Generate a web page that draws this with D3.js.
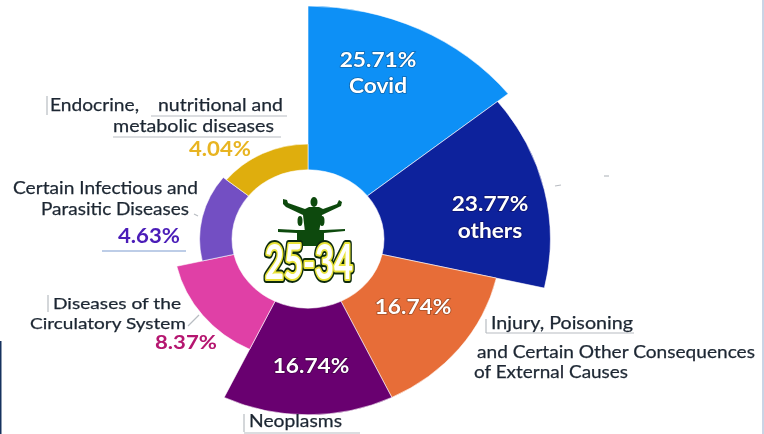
<!DOCTYPE html>
<html>
<head>
<meta charset="utf-8">
<script src="https://cdnjs.cloudflare.com/ajax/libs/d3/7.8.5/d3.min.js"></script>
<style>
    html, body { margin: 0; padding: 0; background: #fff; overflow: hidden; }
    svg { display: block; }
    text { font-family: Lato, "Open Sans", sans-serif; }
</style>
</head>
<body>
<svg id="chart" width="764" height="434"></svg>
<script>
// values, clockwise from 12 o'clock
const categories = ['Covid', 'others', 'Injury', 'Neoplasms', 'Circulatory', 'Infectious', 'Endocrine'];
const values = [25.71, 23.77, 16.74, 16.74, 8.37, 4.63, 4.04];
const colors = ['#0f90f6', '#10209c', '#e76d37', '#69006f', '#e041a6', '#7350c3', '#dfae0b'];

const innerLabels = [
    { cat: 'Covid', x: 378, y: 67, name: 'Covid', ny: 93 },
    { cat: 'others', x: 490, y: 211, name: 'others', ny: 238 },
    { cat: 'Injury', x: 413, y: 314 },
    { cat: 'Neoplasms', x: 311, y: 373 }
];
const outerLabels = [
    { cat: 'Endocrine', x: 220, y: 156, color: '#e8b420', size: 21 },
    { cat: 'Infectious', x: 149, y: 243, color: '#4b1fb8', size: 21 },
    { cat: 'Circulatory', x: 186, y: 349, color: '#b5156f', size: 19 }
];
// text, left edge, baseline, width on the picture, font size
const captions = [
    ['Endocrine,', 50, 111, 89, 18], ['nutritional and', 158, 111, 125, 18], ['metabolic diseases', 113, 132, 161, 18],
    ['Certain Infectious and', 13, 194, 185, 18], ['Parasitic Diseases', 41, 215, 148, 18],
    ['Diseases of the', 53, 309, 128, 16], ['Circulatory System', 30, 329, 156, 16],
    ['Neoplasms', 249, 427, 93, 18],
    ['Injury, Poisoning', 491, 329, 142, 18],
    ['and Certain Other Consequences', 477, 358, 278, 18], ['of External Causes', 474, 378, 154, 18]
];
// thin grey rules left over around the captions
const rules = [
    [47, 96, 47, 115], [151, 116, 287, 116], [113, 137, 281, 137],
    [48, 295, 48, 312], [188, 326, 199, 315],
    [244, 414, 244, 432], [244, 433, 360, 433], [486, 319, 486, 333],
    [486, 333, 634, 333], [555, 186, 561, 185], [604, 176, 609, 176],
    [194, 214, 198, 216]
];

const width = 764, height = 434;
const cx = 308, cy = 239, squash = 0.91;

const svg = d3.select('#chart');
svg.append('defs').append('filter').attr('id', 'soft')
    .append('feGaussianBlur').attr('stdDeviation', 0.4);

const root = svg.append('g').attr('filter', 'url(#soft)');

// frame slivers at the picture edges
root.append('line').attr('x1', 0.5).attr('x2', 0.5).attr('y1', 341).attr('y2', height)
    .attr('stroke', '#12305f').attr('stroke-width', 2);
root.append('line').attr('x1', 763).attr('x2', 763).attr('y1', 0).attr('y2', height)
    .attr('stroke', '#b9c6dc').attr('stroke-width', 1.5);

// every wedge gets the same sweep, the value only drives the radius
const angle = d3.scaleBand().domain(categories).range([0, 2 * Math.PI]);
const radius = d3.scaleLinear().domain([0, d3.max(values)]).range([76, 256]);
const arc = d3.arc()
    .innerRadius(radius(0))
    .outerRadius((d, i) => radius(values[i]))
    .startAngle(d => angle(d))
    .endAngle(d => angle(d) + angle.bandwidth());

root.append('g')
    .attr('transform', `translate(${cx},${cy}) scale(1,${squash})`)
    .selectAll('path')
    .data(categories)
    .join('path')
    .attr('d', arc)
    .attr('fill', (d, i) => colors[i])
    .attr('stroke', '#fff')
    .attr('stroke-width', 0.6);

const pct = c => values[categories.indexOf(c)].toFixed(2) + '%';

// the reference text is stretched sideways, so widen what the font gives
function stretch(sel, factor) {
    sel.attr('textLength', function () { return this.getComputedTextLength() * factor; })
        .attr('lengthAdjust', 'spacingAndGlyphs');
}

const inner = root.append('g').attr('text-anchor', 'middle').attr('font-weight', 700)
    .attr('font-size', 21).attr('fill', '#fff')
    .attr('stroke', 'rgba(0,0,0,0.3)').attr('stroke-width', 1.6).attr('paint-order', 'stroke');
innerLabels.forEach(l => {
    inner.append('text').attr('x', l.x).attr('y', l.y).text(pct(l.cat));
    if (l.name) inner.append('text').attr('x', l.x).attr('y', l.ny).text(l.name);
});
stretch(inner.selectAll('text'), 1.08);

root.append('g').selectAll('text')
    .data(outerLabels)
    .join('text')
    .attr('x', d => d.x).attr('y', d => d.y)
    .attr('text-anchor', 'middle').attr('font-weight', 700)
    .attr('font-size', d => d.size).attr('fill', d => d.color)
    .text(d => pct(d.cat))
    .attr('textLength', 62).attr('lengthAdjust', 'spacingAndGlyphs');

root.append('g').selectAll('text')
    .data(captions)
    .join('text')
    .attr('x', d => d[1]).attr('y', d => d[2])
    .attr('font-size', d => d[4]).attr('fill', '#1d2733')
    .attr('stroke', '#1d2733').attr('stroke-width', 0.25)
    .attr('textLength', d => d[3]).attr('lengthAdjust', 'spacingAndGlyphs')
    .text(d => d[0]);

root.append('g').selectAll('line')
    .data(rules)
    .join('line')
    .attr('x1', d => d[0]).attr('y1', d => d[1])
    .attr('x2', d => d[2]).attr('y2', d => d[3])
    .attr('stroke', '#b8bcc2').attr('stroke-width', 1.2);
root.append('line').attr('x1', 102).attr('x2', 186).attr('y1', 251).attr('y2', 251)
    .attr('stroke', '#7f9bd0').attr('stroke-width', 1.2);

// age group badge in the hole
const badge = root.append('g').attr('fill', '#0f4a10');
// main figure, arms raised
badge.append('path')
    .attr('d', 'M283 199 L287 200 L288 203 L305 209 L309 207 L319 207 L323 209 L337 204 L339 200 L342 202 L341 206 L322 215 L319 232 L318 246 L306 246 L305 232 L303 215 L286 207 L283 204 Z');
badge.append('ellipse').attr('cx', 314).attr('cy', 202).attr('rx', 3.5).attr('ry', 5);
// the two small figures and their bar
badge.append('ellipse').attr('cx', 300).attr('cy', 221).attr('rx', 2.5).attr('ry', 5);
badge.append('ellipse').attr('cx', 322).attr('cy', 221).attr('rx', 2.5).attr('ry', 5);
badge.append('path')
    .attr('d', 'M278 229 L296 230 L324 230 L345 229 L345 231 L324 233 L324 246 L297 246 L297 233 L278 232 Z');

const badgeText = (stroke, w, fill) => badge.append('text')
    .attr('x', 309).attr('y', 279).attr('text-anchor', 'middle')
    .attr('font-size', 48).attr('font-weight', 700)
    .attr('font-family', '"Liberation Sans", sans-serif')
    .attr('textLength', 88).attr('lengthAdjust', 'spacingAndGlyphs')
    .attr('fill', fill).attr('stroke', stroke).attr('stroke-width', w)
    .attr('stroke-linejoin', 'round')
    .text('25-34');
badgeText('#0b2a0b', 8, 'none');
badgeText('#e9e33a', 4, 'none');
badgeText('none', 0, '#fff');
</script>
</body>
</html>
